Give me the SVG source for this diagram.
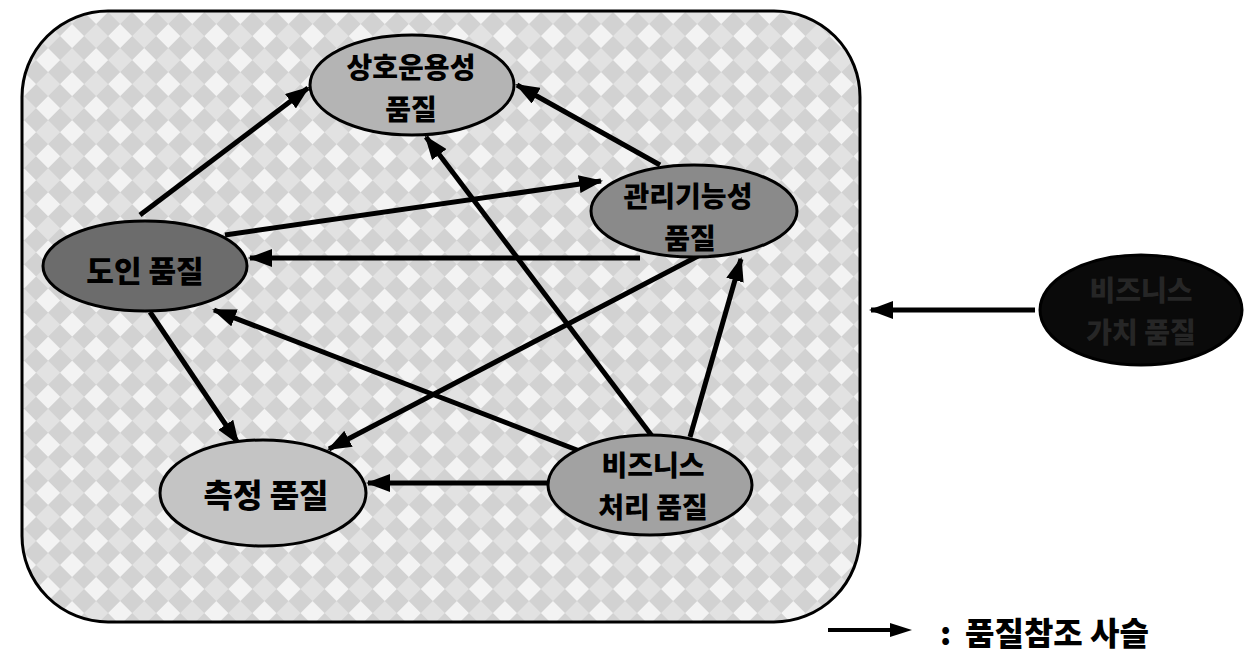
<svg xmlns="http://www.w3.org/2000/svg" width="1246" height="653" viewBox="0 0 1246 653">
<style>
.lbl{font-family:"Noto Sans CJK KR","Noto Sans",sans-serif;font-weight:900;font-size:28px;fill:#000;text-anchor:middle;dominant-baseline:central}
.node{stroke:#000;stroke-width:3}
.edge{stroke:#000;stroke-width:5;fill:none;marker-end:url(#ah)}
.leg{font-family:"Noto Sans CJK KR","Noto Sans",sans-serif;font-weight:900;font-size:32px;fill:#000;dominant-baseline:central}
</style>
<defs>
<pattern id="chk" width="34" height="34" patternUnits="userSpaceOnUse" patternTransform="rotate(45)">
<rect width="34" height="34" fill="#d2d2d2"/>
<rect width="17" height="17" fill="#f3f3f3"/>
<rect x="17" y="17" width="17" height="17" fill="#e2e2e2"/>
</pattern>
<marker id="ah" markerUnits="userSpaceOnUse" markerWidth="24" markerHeight="18" refX="22" refY="9" orient="auto">
<path d="M0,0 L24,9 L0,18 z" fill="#000"/>
</marker>
</defs>
<rect width="1246" height="653" fill="#fff"/>
<g id="container">
<rect x="22" y="11" width="838" height="611" rx="86" ry="86" fill="url(#chk)" stroke="#000" stroke-width="3"/>
</g>
<g id="connectors">
<line class="edge" x1="140" y1="215" x2="308" y2="88"/>
<line class="edge" x1="660" y1="165" x2="517" y2="85"/>
<line class="edge" x1="655" y1="440" x2="426" y2="137"/>
<line class="edge" x1="225" y1="235" x2="601" y2="181"/>
<line class="edge" x1="640" y1="258" x2="250" y2="258"/>
<line class="edge" x1="690" y1="437" x2="741" y2="259"/>
<line class="edge" x1="700" y1="255" x2="329" y2="449"/>
<line class="edge" x1="590" y1="455" x2="214" y2="310"/>
<line class="edge" x1="150" y1="312" x2="238" y2="443"/>
<line class="edge" x1="550" y1="483" x2="368" y2="483"/>
<line class="edge" x1="1035" y1="310" x2="871" y2="310"/>
</g>
<g id="n-interop">
<ellipse class="node" cx="412" cy="85" rx="102" ry="50" fill="#b4b4b4"/>
<text class="lbl" x="411" y="66">상호운용성</text>
<text class="lbl" x="411" y="108">품질</text>
</g>
<g id="n-mgmt">
<ellipse class="node" cx="694" cy="211" rx="103" ry="46" fill="#8a8a8a"/>
<text class="lbl" x="688" y="195">관리기능성</text>
<text class="lbl" x="690" y="237">품질</text>
</g>
<g id="n-domain">
<ellipse class="node" cx="145" cy="266" rx="102" ry="45" fill="#6c6c6c"/>
<text class="lbl" x="145" y="269" style="font-size:30px">도인 품질</text>
</g>
<g id="n-measure">
<ellipse class="node" cx="263" cy="493" rx="103" ry="53" fill="#c4c4c4"/>
<text class="lbl" x="266" y="493" style="font-size:32px">측정 품질</text>
</g>
<g id="n-bizproc">
<ellipse class="node" cx="650" cy="485" rx="102" ry="50" fill="#a2a2a2"/>
<text class="lbl" x="653" y="464">비즈니스</text>
<text class="lbl" x="653" y="506">처리 품질</text>
</g>
<g id="n-bizvalue">
<ellipse class="node" cx="1141" cy="310" rx="101" ry="55" fill="#0a0a0a"/>
<text class="lbl" x="1141" y="289" style="fill:#262626">비즈니스</text>
<text class="lbl" x="1141" y="331" style="fill:#262626">가치 품질</text>
</g>
<g id="legend">
<line x1="828" y1="630" x2="892" y2="630" stroke="#000" stroke-width="4"/>
<path d="M890,623 L912,630 L890,637 z" fill="#000"/>
<text class="leg" x="940" y="631">:</text>
<text class="leg" x="965" y="631">품질참조 사슬</text>
</g>
</svg>
